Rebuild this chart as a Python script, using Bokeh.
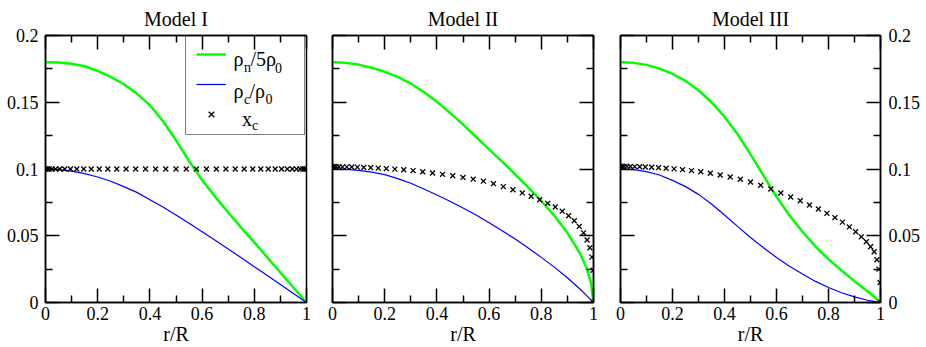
from bokeh.plotting import figure
from bokeh.models import Range1d, LinearAxis, FixedTicker, Label, Legend, LegendItem
from bokeh.layouts import row
from bokeh.embed import file_html
from bokeh.resources import INLINE
from bokeh.core.properties import value

SERIF = "Liberation Serif"

# ---------------- data ----------------
PANEL_TITLES = ["Model I", "Model II", "Model III"]
X_LABEL = "r/R"

X_TICKS = [0.0, 0.2, 0.4, 0.6, 0.8, 1.0]
X_TICK_LABELS = ["0", "0.2", "0.4", "0.6", "0.8", "1"]
X_MINOR = [0.1, 0.3, 0.5, 0.7, 0.9]
Y_TICKS = [0.0, 0.05, 0.1, 0.15, 0.2]
Y_TICK_LABELS = ["0", "0.05", "0.1", "0.15", "0.2"]
Y_MINOR = [0.025, 0.075, 0.125, 0.175]

# radial grid of the x_c points (dense near both ends)
R_GRID = [0.0, 0.0015, 0.0062, 0.0138, 0.0245, 0.0381, 0.0545, 0.0737, 0.0955,
          0.1198, 0.1464, 0.1753, 0.2061, 0.2388, 0.2730, 0.3087, 0.3455,
          0.3833, 0.4218, 0.4608, 0.5, 0.5392, 0.5782, 0.6167, 0.6545, 0.6913,
          0.7270, 0.7612, 0.7939, 0.8247, 0.8536, 0.8802, 0.9045, 0.9263,
          0.9455, 0.9619, 0.9755, 0.9862, 0.9938, 0.9985, 1.0]

XC_MODEL1 = [0.1, 0.1, 0.1, 0.1, 0.1, 0.1, 0.1, 0.1, 0.1, 0.1, 0.1, 0.1, 0.1,
             0.1, 0.1, 0.1, 0.1, 0.1, 0.1, 0.1, 0.1, 0.1, 0.1, 0.1, 0.1, 0.1,
             0.1, 0.1, 0.1, 0.1, 0.1, 0.1, 0.1, 0.1, 0.1, 0.1, 0.1, 0.1, 0.1,
             0.1, 0.1]
XC_MODEL2 = [0.1017, 0.1017, 0.1017, 0.1017, 0.1017, 0.1016, 0.1016, 0.1015,
             0.1014, 0.1012, 0.1010, 0.1007, 0.1003, 0.0999, 0.0994, 0.0988,
             0.0979, 0.0970, 0.0960, 0.0949, 0.0937, 0.0924, 0.0909, 0.0890,
             0.0868, 0.0845, 0.0821, 0.0796, 0.0770, 0.0743, 0.0715, 0.0684,
             0.0650, 0.0612, 0.0570, 0.0522, 0.0468, 0.0410, 0.0340, 0.0242,
             0.0]
XC_MODEL3 = [0.1020, 0.1020, 0.1020, 0.1020, 0.1020, 0.1019, 0.1018, 0.1017,
             0.1015, 0.1013, 0.1010, 0.1006, 0.1001, 0.0995, 0.0988, 0.0979,
             0.0968, 0.0955, 0.0940, 0.0923, 0.0903, 0.0878, 0.0850, 0.0820,
             0.0790, 0.0762, 0.0730, 0.0700, 0.0668, 0.0636, 0.0602, 0.0566,
             0.0530, 0.0492, 0.0455, 0.0418, 0.0380, 0.0320, 0.0250, 0.0150,
             0.0]

R_CURVE = [0.0, 0.05, 0.1, 0.15, 0.2, 0.25, 0.3, 0.35, 0.4, 0.45, 0.5, 0.55,
           0.6, 0.65, 0.7, 0.75, 0.8, 0.85, 0.9, 0.95, 0.975, 0.99, 1.0]

RHO_N_MODEL1 = [0.1800, 0.1797, 0.1788, 0.1770, 0.1735, 0.1690, 0.1635, 0.1565,
                0.1478, 0.1360, 0.1215, 0.1060, 0.0918, 0.0793, 0.0674, 0.0561,
                0.0450, 0.0338, 0.0225, 0.0112, 0.0056, 0.0022, 0.0]
RHO_C_MODEL1 = [0.1000, 0.0996, 0.0984, 0.0965, 0.0940, 0.0908, 0.0868, 0.0825,
                0.0770, 0.0715, 0.0656, 0.0594, 0.0530, 0.0466, 0.0400, 0.0335,
                0.0268, 0.0202, 0.0135, 0.0068, 0.0034, 0.0014, 0.0]
RHO_N_MODEL2 = [0.1800, 0.1795, 0.1782, 0.1758, 0.1728, 0.1690, 0.1640, 0.1577,
                0.1503, 0.1422, 0.1333, 0.1240, 0.1147, 0.1055, 0.0960, 0.0862,
                0.0760, 0.0650, 0.0522, 0.0362, 0.0250, 0.0150, 0.0]
RHO_C_MODEL2 = [0.1000, 0.0997, 0.0990, 0.0977, 0.0958, 0.0928, 0.0893, 0.0850,
                0.0805, 0.0758, 0.0708, 0.0655, 0.0598, 0.0538, 0.0475, 0.0408,
                0.0338, 0.0265, 0.0185, 0.0097, 0.0050, 0.0020, 0.0]
RHO_N_MODEL3 = [0.1800, 0.1795, 0.1780, 0.1752, 0.1712, 0.1660, 0.1590, 0.1500,
                0.1392, 0.1262, 0.1110, 0.0950, 0.0792, 0.0652, 0.0530, 0.0420,
                0.0325, 0.0240, 0.0160, 0.0085, 0.0045, 0.0018, 0.0]
RHO_C_MODEL3 = [0.1000, 0.0995, 0.0980, 0.0955, 0.0915, 0.0868, 0.0810, 0.0738,
                0.0655, 0.0570, 0.0487, 0.0410, 0.0337, 0.0272, 0.0213, 0.0158,
                0.0112, 0.0073, 0.0042, 0.0017, 0.0008, 0.0002, 0.0]

GREEN = "#00ff00"
BLUE = "#0000ff"


def make_axis(ticks, minor, labels, mode, standoff):
    ax = LinearAxis(ticker=FixedTicker(ticks=ticks, minor_ticks=minor))
    ax.major_tick_in = 14
    ax.major_tick_out = 0
    ax.minor_tick_in = 7
    ax.minor_tick_out = 0
    ax.axis_line_color = "black"
    ax.axis_line_width = 1.5
    ax.major_tick_line_color = "black"
    ax.major_tick_line_width = 1.5
    ax.minor_tick_line_color = "black"
    ax.minor_tick_line_width = 1.5
    ax.major_label_text_font = SERIF
    ax.major_label_text_color = "black"
    ax.major_label_text_font_size = "18px"
    if mode == "labels":
        ax.major_label_overrides = dict(zip(ticks, labels))
        ax.major_label_standoff = standoff
    elif mode == "blank_side":
        ax.major_label_overrides = {t: "" for t in ticks}
        ax.major_label_standoff = 0
    else:  # blank top axis, must take no room
        ax.major_label_overrides = {t: "" for t in ticks}
        ax.major_label_text_font_size = "0px"
        ax.major_label_standoff = 0
    return ax


def make_panel(title, rho_n, rho_c, xc, left_mode, right_mode, bl, br, fw):
    p = figure(frame_width=fw, frame_height=267,
               x_range=Range1d(0, 1), y_range=Range1d(0, 0.2),
               x_axis_location=None, y_axis_location=None,
               toolbar_location=None, output_backend="svg",
               min_border_left=bl, min_border_right=br,
               min_border_top=33, min_border_bottom=47)
    p.center = []
    p.outline_line_color = "black"
    p.outline_line_width = 1.5
    p.background_fill_color = "white"
    p.border_fill_color = "white"

    p.title.text = title
    p.title.align = "center"
    p.title.text_font = SERIF
    p.title.text_font_size = "20px"
    p.title.text_font_style = "normal"
    p.title.text_color = "black"
    p.title.standoff = 11

    xb = make_axis(X_TICKS, X_MINOR, X_TICK_LABELS, "labels", 4)
    xb.axis_label = X_LABEL
    xb.axis_label_text_font = SERIF
    xb.axis_label_text_font_size = "20px"
    xb.axis_label_text_font_style = "normal"
    xb.axis_label_text_color = "black"
    xb.axis_label_standoff = 0
    p.add_layout(xb, "below")
    p.add_layout(make_axis(X_TICKS, X_MINOR, X_TICK_LABELS, "blank_top", 0), "above")
    p.add_layout(make_axis(Y_TICKS, Y_MINOR, Y_TICK_LABELS, left_mode, 7), "left")
    if right_mode is not None:
        p.add_layout(make_axis(Y_TICKS, Y_MINOR, Y_TICK_LABELS, right_mode, 8), "right")

    g = p.line(R_CURVE, rho_n, line_color=GREEN, line_width=2.5)
    b = p.line(R_CURVE, rho_c, line_color=BLUE, line_width=1.2)
    s = p.scatter(R_GRID, xc, marker="x", size=7, line_color="black", line_width=1.3)
    return p, g, b, s


p1, g1, b1, s1 = make_panel(PANEL_TITLES[0], RHO_N_MODEL1, RHO_C_MODEL1, XC_MODEL1,
                            "labels", None, 45, 13, 261)
p2, _, _, _ = make_panel(PANEL_TITLES[1], RHO_N_MODEL2, RHO_C_MODEL2, XC_MODEL2,
                         "blank_side", "blank_side", 13, 14, 261)
p3, _, _, _ = make_panel(PANEL_TITLES[2], RHO_N_MODEL3, RHO_C_MODEL3, XC_MODEL3,
                         "blank_side", "labels", 13, 46, 260)

# legend box + sample glyphs
legend = Legend(items=[LegendItem(label=value(" "), renderers=[g1]),
                       LegendItem(label=value(" "), renderers=[b1]),
                       LegendItem(label=value(" "), renderers=[s1])],
                location=(140, 167), padding=10, spacing=10,
                glyph_width=30, glyph_height=20, label_height=20,
                label_width=60, label_standoff=8, margin=0,
                border_line_color="black", border_line_width=1.5,
                background_fill_color="white", background_fill_alpha=0.0,
                label_text_font_size="10px")
p1.add_layout(legend, "center")

# legend texts with subscripts: (text, x, y, size)
LEGEND_PARTS = [
    ("ρ", 0.7203, 0.1824, "20px"), ("n", 0.7605, 0.1760, "14px"),
    ("/5ρ", 0.7854, 0.1824, "20px"), ("0", 0.8790, 0.1760, "14px"),
    ("ρ", 0.7203, 0.1584, "20px"), ("c", 0.7605, 0.1524, "14px"),
    ("/ρ", 0.7816, 0.1584, "20px"), ("0", 0.8430, 0.1524, "14px"),
    ("x", 0.7529, 0.1371, "20px"), ("c", 0.7912, 0.1326, "14px"),
]
for txt, lx, ly, fs in LEGEND_PARTS:
    p1.add_layout(Label(x=lx, y=ly, text=txt, text_align="left",
                        text_baseline="alphabetic", text_font=SERIF,
                        text_font_size=fs, text_color="black", level="overlay"))

layout = row(p1, p2, p3)
open("out.html", "w").write(file_html(layout, INLINE))
